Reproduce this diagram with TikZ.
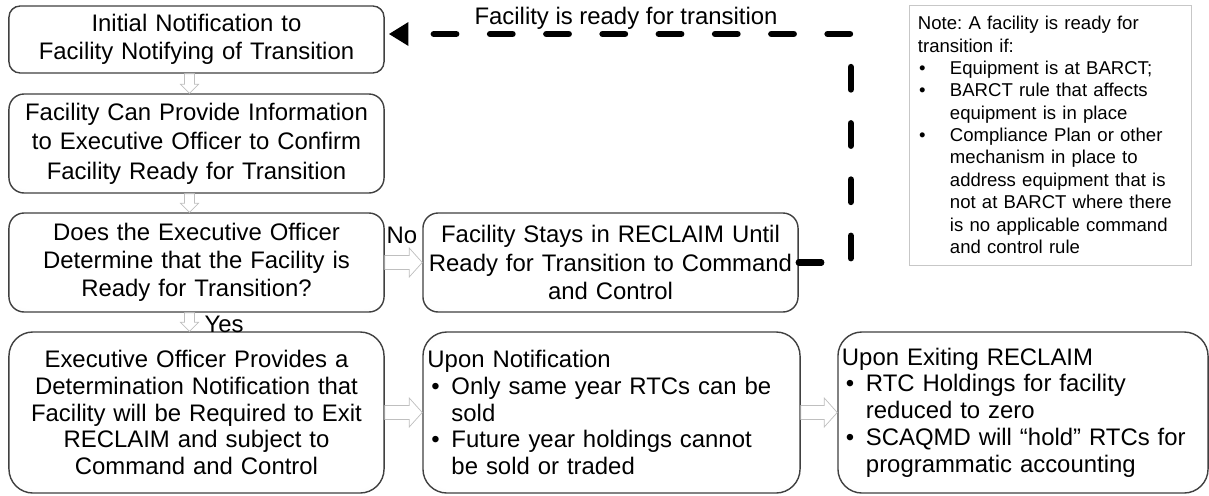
\documentclass[tikz,border=0pt]{standalone}
\usepackage{fontspec}
\setmainfont{Liberation Sans}
\usetikzlibrary{calc,arrows.meta}

% soft inner glow of the flow boxes
\pgfdeclareradialshading{boxglow}{\pgfpoint{0bp}{0bp}}{color(0bp)=(white); color(32bp)=(white); color(50bp)=(black!9); color(72bp)=(black!12)}

\newcommand{\bul}[1][0.6cm]{\makebox[#1][l]{\hspace{0.1cm}\textbullet}}
\newcommand{\nbul}{\makebox[0.8cm][l]{\hspace{0.03cm}\textbullet}}
\newcommand{\ind}[1][0.6cm]{\hspace*{#1}}
% hollow block arrows between boxes
\newcommand{\rightblock}[2]{\draw[hollowarrow] ($(#1.east)+(0,-7)$) -- ($(#2.west)+(-13,-7)$) -- ($(#2.west)+(-13,-14.5)$) -- (#2.west) -- ($(#2.west)+(-13,14.5)$) -- ($(#2.west)+(-13,7)$) -- ($(#1.east)+(0,7)$) -- cycle;}
\newcommand{\downblock}[2]{\draw[hollowarrow] ($(#1.south)+(-12,0)$) -- ($(#2.north)+(-12,-9)$) -- ($(#2.north)+(-16,-9)$) -- ($(#2.north)+(-7,0)$) -- ($(#2.north)+(2,-9)$) -- ($(#2.north)+(-2,-9)$) -- ($(#1.south)+(-2,0)$) -- cycle;}

\begin{document}
\begin{tikzpicture}[x=0.025cm, y=-0.025cm,
    flowbox/.style={draw=black!75, line width=1pt, shading=boxglow, align=center, text width=9.2cm, inner xsep=0.0875cm, font=\fontsize{17}{20}\selectfont},
    listbox/.style={flowbox, align=left, minimum height=4.025cm, rounded corners=0.6cm, font=\fontsize{17}{19}\selectfont},
    hollowarrow/.style={draw=black!25, line width=0.5pt, fill=white},
    feedback/.style={line width=4.5pt, dash pattern=on 16pt off 24pt, line cap=round, line join=round, -{Triangle[length=14pt,width=16pt]}},
    plain/.style={font=\fontsize{17}{20}\selectfont, inner sep=0pt}]
    \useasboundingbox (0,0) rectangle (1209,495);

    % Left column
    \node[flowbox, minimum height=1.675cm, rounded corners=0.28cm] (init) at (196.5,39.5) {Initial Notification to\\Facility Notifying of Transition};
    \node[flowbox, minimum height=2.475cm, rounded corners=0.38cm, font=\fontsize{17}{21}\selectfont] (info) at (196.5,143.5) {Facility Can Provide Information\\to Executive Officer to Confirm\\Facility Ready for Transition};
    \node[flowbox, minimum height=2.475cm, rounded corners=0.38cm] (decide) at (196.5,262.5) {Does the Executive Officer\\Determine that the Facility is\\Ready for Transition?};
    \node[flowbox, minimum height=4.025cm, rounded corners=0.6cm, font=\fontsize{17}{19}\selectfont] (determ) at (196.5,412.5) {Executive Officer Provides a\\Determination Notification that\\Facility will be Required to Exit\\RECLAIM and subject to\\Command and Control};

    % Right side
    \node[flowbox, minimum height=2.475cm, rounded corners=0.38cm] (stay) at (610.5,262.5) {Facility Stays in RECLAIM Until\\Ready for Transition to Command\\and Control};
    \node[listbox, inner xsep=0.1125cm] (upon) at (611.5,412.5) {Upon Notification\\\bul Only same year RTCs can be\\\ind sold\\\bul Future year holdings cannot\\\ind be sold or traded};
    \node[listbox, text width=9.05cm, inner xsep=0.1cm] (exiting) at (1023,412.5) {Upon Exiting RECLAIM\\\bul RTC Holdings for facility\\\ind reduced to zero\\\bul SCAQMD will “hold” RTCs for\\\ind programmatic accounting};

    % Note
    \node[draw=black!22, line width=0.6pt, fill=white, align=left, text width=6.6cm, inner xsep=0.225cm, minimum height=6.5cm, font=\fontsize{13.2}{15.9}\selectfont] (note) at (1050,135) {Note:\ A facility is ready for\\transition if:\\\nbul Equipment is at BARCT;\\\nbul BARCT rule that affects\\\ind[0.8cm]equipment is in place\\\nbul Compliance Plan or other\\\ind[0.8cm]mechanism in place to\\\ind[0.8cm]address equipment that is\\\ind[0.8cm]not at BARCT where there\\\ind[0.8cm]is no applicable command\\\ind[0.8cm]and control rule};

    % Block arrows
    \downblock{init}{info}
    \downblock{info}{decide}
    \downblock{decide}{determ}
    \rightblock{decide}{stay}
    \rightblock{determ}{upon}
    \rightblock{upon}{exiting}
    \node[plain] (nolbl) at (402,235) {No};
    \node[plain] (yeslbl) at (224,324) {Yes};

    % Feedback loop
    \draw[feedback] (stay.east) -- ++(52,0) |- ($(init.east)+(4,-5.5)$);
    \node[plain] (readylbl) at (626,18) {Facility is ready for transition};
\end{tikzpicture}
\end{document}
